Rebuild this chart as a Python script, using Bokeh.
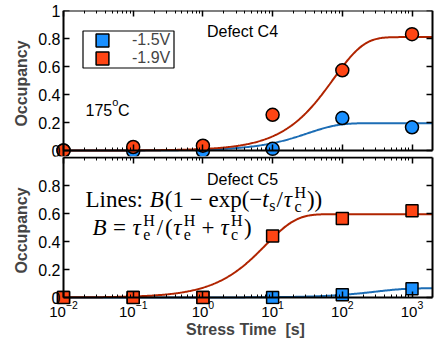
import numpy as np
from bokeh.plotting import figure
from bokeh.layouts import column
from bokeh.models import (Range1d, LinearAxis, LogAxis, FixedTicker, Label, Legend,
                          LegendItem, BoxAnnotation, CustomJSTickFormatter)
from bokeh.embed import file_html
from bokeh.resources import INLINE

# ---------------- data ----------------
stress_time = [0.01, 0.1, 1, 10, 100, 1000]
voltages = ["-1.5V", "-1.9V"]

c4_occ_15 = [0.0, -0.005, -0.003, 0.012, 0.232, 0.166]
c4_occ_19 = [0.0, 0.025, 0.034, 0.255, 0.573, 0.831]
c5_occ_15 = [0.0, 0.0, 0.0, 0.0, 0.02, 0.062]
c5_occ_19 = [0.0, 0.0, 0.0, 0.44, 0.565, 0.62]

# fitted lines  B(1 - exp(-t/tau)) : (B, tau [s])
c4_fit_15 = (0.195, 32.0)
c4_fit_19 = (0.81, 75.0)
c5_fit_15 = (0.066, 300.0)
c5_fit_19 = (0.595, 8.0)

x_major = [0.01, 0.1, 1, 10, 100, 1000]
y_ticks_top = [0, 0.2, 0.4, 0.6, 0.8, 1]
y_ticks_bottom = [0, 0.2, 0.4, 0.6, 0.8]

# ---------------- style ----------------
BLUE_FILL = "#1a90ff"
RED_FILL = "#ff4514"
BLUE_LINE = "#1c6db5"
RED_LINE = "#b02400"
SANS = "Liberation Sans"
SERIF = "Liberation Serif"

X_START = 10 ** -2.115
X_END = 10 ** 3.337
AXIS_END = 10 ** 3.29
x_minor = [m * 10.0 ** e for e in range(-2, 4) for m in range(2, 10)
           if m * 10.0 ** e <= AXIS_END]

t_fit = np.logspace(-2, 3.29, 400)


def fit_curve(params):
    B, tau = params
    return B * (1 - np.exp(-t_fit / tau))


def style_axis(ax, labels=True, ticks=True):
    ax.axis_line_width = 2
    ax.axis_line_color = "black"
    ax.major_tick_in = 6
    ax.major_tick_out = 0
    ax.minor_tick_in = 3
    ax.minor_tick_out = 0
    ax.major_tick_line_width = 1.5
    ax.minor_tick_line_width = 1
    ax.major_tick_line_color = "black"
    ax.minor_tick_line_color = "black"
    if not ticks:
        ax.axis_line_color = None
        ax.major_tick_line_color = None
        ax.minor_tick_line_color = None
    if labels:
        ax.major_label_text_font = SANS
        ax.major_label_text_color = "black"
    else:
        ax.formatter = CustomJSTickFormatter(code="return ''")
        ax.major_label_text_font_size = "1px"
        ax.major_label_standoff = 0


def x_ticker():
    return FixedTicker(ticks=x_major, minor_ticks=x_minor)


def make_panel(height, min_top, min_bottom, y_range, y_ticks, bottom_panel):
    p = figure(width=447, height=height, x_axis_type="log",
               x_range=Range1d(X_START, X_END), y_range=Range1d(*y_range),
               output_backend="svg", toolbar_location=None,
               x_axis_location=None, y_axis_location=None,
               min_border_left=55, min_border_right=12,
               min_border_top=min_top, min_border_bottom=min_bottom)
    p.outline_line_color = None
    p.grid.visible = False
    p.background_fill_color = "white"
    p.border_fill_color = "white"

    # --- left: tick labels + axis title (normal axis, no line) ---
    left_lab = LinearAxis(ticker=FixedTicker(ticks=y_ticks), bounds=(0, 1),
                          axis_label="Occupancy",
                          formatter=CustomJSTickFormatter(code="return tick.toString()"))
    style_axis(left_lab, ticks=False)
    left_lab.major_label_text_font_size = "16px"
    left_lab.major_label_standoff = -5
    left_lab.axis_label_text_font = SANS
    left_lab.axis_label_text_font_style = "bold"
    left_lab.axis_label_text_font_size = "16px"
    left_lab.axis_label_standoff = 5
    p.add_layout(left_lab, "left")

    # --- left: line + ticks at x = 1e-2 ---
    left_fix = LinearAxis(ticker=FixedTicker(ticks=y_ticks), fixed_location=0.01,
                          bounds=(0, 1) if bottom_panel else (y_range[0], 1))
    style_axis(left_fix, labels=False)
    left_fix.minor_tick_line_color = None
    p.add_layout(left_fix, "left")

    # --- right: line + ticks ---
    right = LinearAxis(ticker=FixedTicker(ticks=y_ticks), fixed_location=AXIS_END,
                       bounds=(0, 1))
    style_axis(right, labels=False)
    right.minor_tick_line_color = None
    p.add_layout(right, "right")

    # --- top: line + ticks ---
    above = LogAxis(ticker=x_ticker(), bounds=(0.01, AXIS_END), fixed_location=1.0)
    style_axis(above, labels=False)
    p.add_layout(above, "above")

    # --- bottom: line + ticks at y = 0 ---
    below = LogAxis(ticker=x_ticker(), bounds=(0.01, AXIS_END), fixed_location=0.0)
    style_axis(below, labels=False)
    p.add_layout(below, "below")

    if bottom_panel:
        below_lab = LogAxis(ticker=x_ticker(), bounds=(0.01, AXIS_END))
        style_axis(below_lab, ticks=False)
        below_lab.major_label_text_font_size = "15px"
        below_lab.major_label_standoff = -4
        below_lab.axis_label = "Stress Time \u00a0[s]"
        below_lab.axis_label_text_font = SANS
        below_lab.axis_label_text_font_style = "bold"
        below_lab.axis_label_text_font_size = "16px"
        below_lab.axis_label_standoff = 1
        p.add_layout(below_lab, "below")
    return p


def add_text(p, x, y, text, size, font=SANS, style="normal", align="left"):
    # y is the intended baseline (px above the frame bottom)
    p.add_layout(Label(x=x, y=y + 0.3 * size, x_units="screen", y_units="screen", text=text,
                       text_font=font, text_font_size=f"{size}px", text_font_style=style,
                       text_align=align, text_baseline="alphabetic", text_color="black"))


TIMES = {"L": 611, "i": 278, "n": 500, "e": 444, "s": 389, ":": 278, " ": 250, "(": 333,
         ")": 333, "1": 500, "\u2212": 564, "x": 500, "p": 500, "/": 278, "=": 564,
         "+": 564, "c": 444, "H": 722, "B": 611, "t": 278, "\u03c4": 440}


def tw(s, size):
    return sum(TIMES.get(ch, 500) for ch in s) * size / 1000.0


def add_math(p, x, y, tokens, F=23, S=16):
    for tok in tokens:
        kind = tok[0]
        if kind == "gap":
            x += tok[1]
        elif kind == "txt":
            _, s, it = tok
            add_text(p, x, y, s, F, font=SERIF, style="italic" if it else "normal")
            x += tw(s, F)
        elif kind == "scr":
            _, sub, sup = tok
            w = 0
            if sub:
                add_text(p, x, y - (5 if sup else 3.5), sub, S, font=SERIF)
                w = max(w, tw(sub, S))
            if sup:
                add_text(p, x, y + 9, sup, S, font=SERIF)
                w = max(w, tw(sup, S))
            x += w


# ---------------- top panel: Defect C4 ----------------
p1 = make_panel(160, 10, 4, (1 - 146 / 140, 1.0), y_ticks_top, bottom_panel=False)
p1.line(t_fit, fit_curve(c4_fit_15), line_color=BLUE_LINE, line_width=2)
p1.line(t_fit, fit_curve(c4_fit_19), line_color=RED_LINE, line_width=2)
p1.scatter(stress_time, c4_occ_15, marker="circle", size=13, fill_color=BLUE_FILL,
           line_color="black", line_width=1.5)
p1.scatter(stress_time, c4_occ_19, marker="circle", size=13, fill_color=RED_FILL,
           line_color="black", line_width=1.5)

# legend swatches (no visible data mark: NaN geometry)
nan = [float("nan")]
leg_b = p1.quad(left=nan, right=nan, top=nan, bottom=nan, fill_color=BLUE_FILL,
                line_color="black", line_width=1.5)
leg_r = p1.quad(left=nan, right=nan, top=nan, bottom=nan, fill_color=RED_FILL,
                line_color="black", line_width=1.5)
legend = Legend(items=[LegendItem(label=voltages[0], renderers=[leg_b]),
                       LegendItem(label=voltages[1], renderers=[leg_r])],
                location=(39, 89), padding=0, spacing=-3, glyph_width=16, glyph_height=16,
                label_height=18, label_standoff=22, label_text_font=SANS,
                label_text_font_size="16px", border_line_color=None,
                background_fill_alpha=0)
p1.add_layout(legend)
p1.add_layout(BoxAnnotation(left=27.5, right=118.5, top=125.5, bottom=88.5,
                            left_units="screen", right_units="screen", top_units="screen",
                            bottom_units="screen", fill_alpha=0, line_color="black",
                            line_alpha=1.0, line_width=1.2))

add_text(p1, 187, 120.5, "Defect C4", 16, align="center")
add_text(p1, 30, 41.5, "175", 16)
add_text(p1, 56.7, 51, "o", 11)
add_text(p1, 62.5, 41.5, "C", 16)

# ---------------- bottom panel: Defect C5 ----------------
p2 = make_panel(188, 0, 40, (-0.05, 1 + 1 / 140), y_ticks_bottom, bottom_panel=True)
p2.styles = {"margin-top": "-4px"}
p2.line(t_fit, fit_curve(c5_fit_15), line_color=BLUE_LINE, line_width=2)
p2.line(t_fit, fit_curve(c5_fit_19), line_color=RED_LINE, line_width=2)
p2.scatter(stress_time, c5_occ_15, marker="square", size=12, fill_color=BLUE_FILL,
           line_color="black", line_width=1.5)
p2.scatter(stress_time, c5_occ_19, marker="square", size=12, fill_color=RED_FILL,
           line_color="black", line_width=1.5)

add_text(p2, 187, 120.5, "Defect C5", 16, align="center")

line1 = [("txt", "Lines: ", False), ("gap", 1), ("txt", "B", True), ("gap", 1),
         ("txt", "(1 \u2212 exp(\u2212", False), ("txt", "t", True), ("gap", 0.5),
         ("scr", "s", None), ("gap", 1), ("txt", "/", False), ("gap", 1),
         ("txt", "\u03c4", True), ("gap", 0.5), ("scr", "c", "H"), ("gap", 1),
         ("txt", "))", False)]
line2 = [("txt", "B", True), ("gap", 6.5), ("txt", "=", False), ("gap", 6.5),
         ("txt", "\u03c4", True), ("gap", 0.5), ("scr", "e", "H"), ("gap", 2),
         ("txt", "/", False), ("gap", 2), ("txt", "(", False), ("gap", 0.5),
         ("txt", "\u03c4", True), ("gap", 0.5), ("scr", "e", "H"), ("gap", 6),
         ("txt", "+", False), ("gap", 6), ("txt", "\u03c4", True), ("gap", 0.5),
         ("scr", "c", "H"), ("gap", 1.5), ("txt", ")", False)]
add_math(p2, 30, 98, line1)
add_math(p2, 37, 70, line2)

layout = column(p1, p2, spacing=0,
                styles={"position": "absolute", "top": "0px", "left": "0px"})

open("out.html", "w").write(file_html(layout, INLINE))
